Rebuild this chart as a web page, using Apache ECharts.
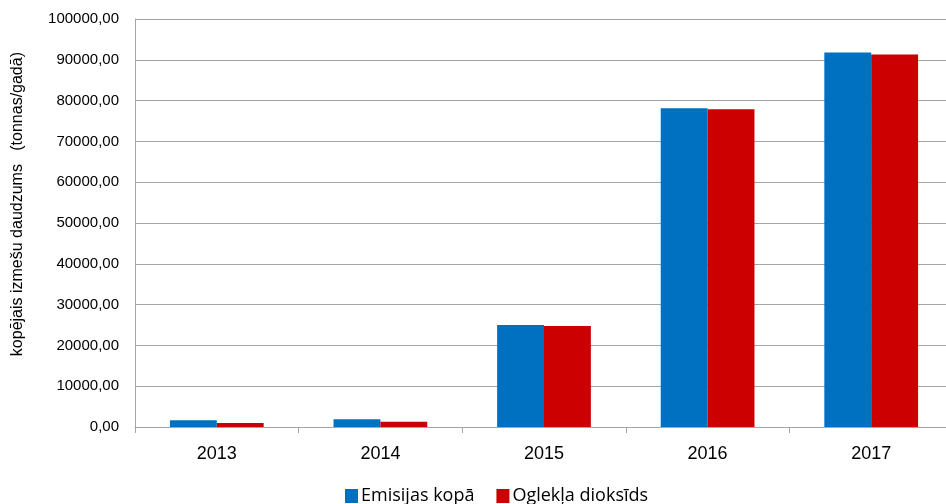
<!DOCTYPE html>
<html><head><meta charset="utf-8">
<script src="https://cdn.jsdelivr.net/npm/echarts@6/dist/echarts.min.js"></script>
<style>html,body{margin:0;padding:0;background:#fff;overflow:hidden}#c{width:960px;height:504px}</style>
</head><body><div id="c"></div>
<script>
const categories = ['2013', '2014', '2015', '2016', '2017'];
const emisijasKopa = [1640, 1900, 25000, 78100, 91800];
const oglekluDioksids = [1000, 1300, 24750, 77850, 91300];
const seriesNames = ['Emisijas kopā', 'Oglekļa dioksīds'];
const yAxisTitle = 'kopējais izmešu daudzums   (tonnas/gadā)';

const chart = echarts.init(document.getElementById('c'));
chart.setOption({
  animation: false,
  backgroundColor: '#fff',
  grid: { left: 135, top: 19, height: 408, width: 818, containLabel: false },
  graphic: [{
    type: 'text', left: 10, top: 52, rotation: Math.PI / 2,
    style: { text: yAxisTitle, font: '16px "Liberation Sans"', fill: '#000' }
  }],
  legend: {
    data: seriesNames, left: 340, top: 480, itemWidth: 13, itemHeight: 14, itemGap: 22,
    icon: 'rect',
    textStyle: { fontFamily: 'Open Sans', fontSize: 18, lineHeight: 22, color: '#000', padding: [0,0,0,-2] }
  },
  xAxis: {
    type: 'category', data: categories,
    axisLine: { lineStyle: { color: '#a6a6a6', width: 1 } },
    axisTick: { show: true, length: 6, lineStyle: { color: '#a6a6a6' } },
    axisLabel: { fontFamily: 'Liberation Sans', fontSize: 18, color: '#000', margin: 18 }
  },
  yAxis: {
    type: 'value', min: 0, max: 100000, interval: 10000,
    axisLine: { show: true, lineStyle: { color: '#a6a6a6' } },
    axisTick: { show: false },
    splitLine: { lineStyle: { color: '#a6a6a6' } },
    axisLabel: { fontFamily: 'Liberation Sans', fontSize: 15, color: '#000', margin: 16,
      formatter: v => v.toFixed(2).replace('.', ',') }
  },
  series: [
    { name: seriesNames[0], type: 'bar', data: emisijasKopa, barGap: '0%', barCategoryGap: '42.7%',
      itemStyle: { color: '#0070C0' } },
    { name: seriesNames[1], type: 'bar', data: oglekluDioksids, barGap: '0%', barCategoryGap: '42.7%',
      itemStyle: { color: '#CC0000' } }
  ]
});
</script></body></html>
